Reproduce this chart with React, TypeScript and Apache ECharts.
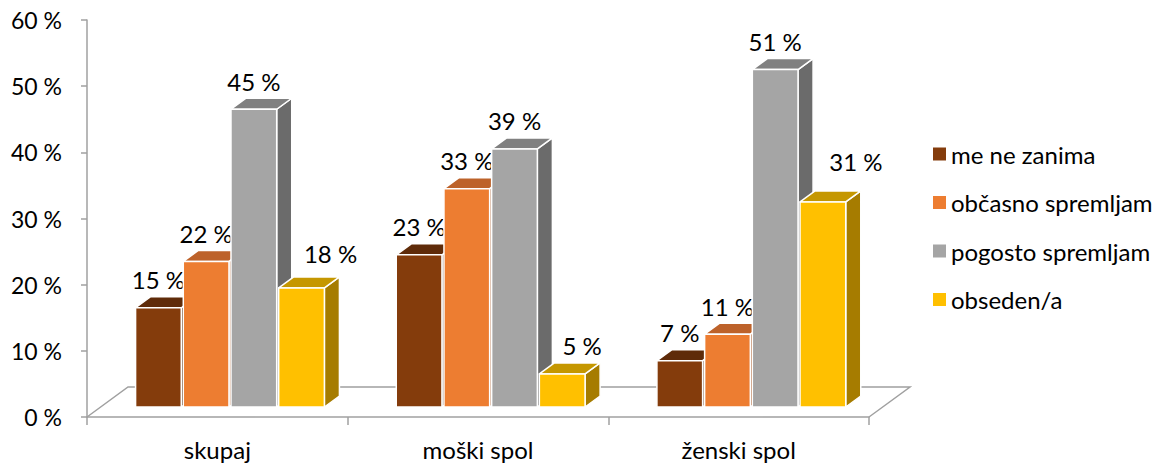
import React, { useEffect, useRef } from "react";
import * as echarts from "echarts";

const categories = ["skupaj", "moški spol", "ženski spol"];
const seriesNames = ["me ne zanima", "občasno spremljam", "pogosto spremljam", "obseden/a"];
const meNeZanima = [15, 23, 7];
const obcasnoSpremljam = [22, 33, 11];
const pogostoSpremljam = [45, 39, 51];
const obsedenA = [18, 5, 31];
const seriesValues = [meNeZanima, obcasnoSpremljam, pogostoSpremljam, obsedenA];
const yMin = 0;
const yMax = 60;
const yStep = 10;

const frontColors = ["#843C0C", "#ED7D31", "#A5A5A5", "#FFC000"];
const topColors = ["#5F2B09", "#BD622A", "#808080", "#C59700"];
const sideColors = ["#52250A", "#A85622", "#6B6B6B", "#A67C00"];
// label nudges (px) for the last series, per category
const lastLabelShift = [[29, -6], [20, 0], [33, -12]];

const FONT = "Lato, 'Open Sans', sans-serif";
const DX = 41; // floor depth in px (x)
const DY = 30; // floor depth in px (y)
const F0 = 0.333;
const F1 = 0.7;
const AXIS_COLOR = "#A0A0A0";

export default function App() {
  const ref = useRef<HTMLDivElement>(null);
  useEffect(() => {
    if (!ref.current) return;
    const chart = echarts.init(ref.current, null, { renderer: "svg" });

    const floorSeries: any = {
      type: "custom",
      silent: true,
      data: [[0, 0]],
      encode: { x: 0, y: 1 },
      z: 1,
      renderItem: (params: any, api: any) => {
        const cs = params.coordSys;
        const l = cs.x;
        const r = cs.x + cs.width;
        const b = cs.y + cs.height;
        return {
          type: "polyline",
          shape: { points: [[l, b], [l + DX, b - DY], [r + DX, b - DY], [r, b]] },
          style: { stroke: AXIS_COLOR, lineWidth: 1.5, fill: null },
        };
      },
    };

    const barSeries = seriesNames.map((name, k) => ({
      type: "custom",
      name,
      itemStyle: { color: frontColors[k] },
      data: seriesValues[k].map((v, i) => [i, v]),
      encode: { x: 0, y: 1 },
      z: 2,
      renderItem: (params: any, api: any) => {
        const ci = api.value(0);
        const v = api.value(1);
        const p0 = api.coord([ci, 0]);
        const p1 = api.coord([ci, v]);
        const band = api.size([1, 0])[0];
        const pitch = band * 0.183;
        const w = pitch - 2;
        const x0 = p0[0] + DX * F0 + (k - 2) * pitch;
        const yb = p0[1] - DY * F0;
        const yt = p1[1] - DY * F0;
        const ddx = DX * (F1 - F0);
        const ddy = DY * (F1 - F0);
        const shift = k === 3 ? lastLabelShift[ci] : [0, 0];
        const stroke = { stroke: "#FFFFFF", lineWidth: 1.5, lineJoin: "round" };
        return {
          type: "group",
          children: [
            {
              type: "polygon",
              shape: { points: [[x0 + w, yt], [x0 + w + ddx, yt - ddy], [x0 + w + ddx, yb - ddy], [x0 + w, yb]] },
              style: { fill: sideColors[k], ...stroke },
            },
            {
              type: "polygon",
              shape: { points: [[x0, yt], [x0 + ddx, yt - ddy], [x0 + w + ddx, yt - ddy], [x0 + w, yt]] },
              style: { fill: topColors[k], ...stroke },
            },
            {
              type: "rect",
              shape: { x: x0, y: yt, width: w, height: yb - yt },
              style: { fill: frontColors[k], ...stroke },
            },
            {
              type: "text",
              x: x0 + w / 2 + shift[0],
              y: yt - 28 + shift[1],
              style: {
                text: v + " %",
                fill: "#000",
                font: "24px " + FONT,
                align: "center",
                verticalAlign: "middle",
              },
            },
          ],
        };
      },
    }));

    chart.setOption({
      animation: false,
      backgroundColor: "#FFFFFF",
      grid: { left: 87, right: 297, top: 20, bottom: 49, containLabel: false },
      legend: {
        orient: "vertical",
        left: 928,
        top: 137,
        data: seriesNames,
        icon: "rect",
        itemWidth: 13,
        itemHeight: 13,
        itemGap: 24.5,
        textStyle: { fontSize: 24, fontFamily: FONT, color: "#000", lineHeight: 24 },
        selectedMode: false,
      },
      xAxis: {
        type: "category",
        data: categories,
        axisLine: { lineStyle: { color: AXIS_COLOR, width: 1.5 } },
        axisTick: { show: true, length: 8, lineStyle: { color: AXIS_COLOR, width: 1.5 } },
        axisLabel: { fontSize: 24, fontFamily: FONT, color: "#000", margin: 20 },
      },
      yAxis: {
        type: "value",
        min: yMin,
        max: yMax,
        interval: yStep,
        axisLine: { show: true, lineStyle: { color: AXIS_COLOR, width: 1.5 } },
        axisTick: { show: true, length: 6, lineStyle: { color: AXIS_COLOR, width: 1.5 } },
        splitLine: { show: false },
        axisLabel: { fontSize: 23, fontFamily: FONT, color: "#000", margin: 25, formatter: "{value} %" },
      },
      series: [floorSeries, ...barSeries],
    });
    return () => chart.dispose();
  }, []);
  return (
    <div
      ref={ref}
      style={{ position: "fixed", left: 0, top: 0, width: 1166, height: 466, background: "#fff" }}
    />
  );
}
